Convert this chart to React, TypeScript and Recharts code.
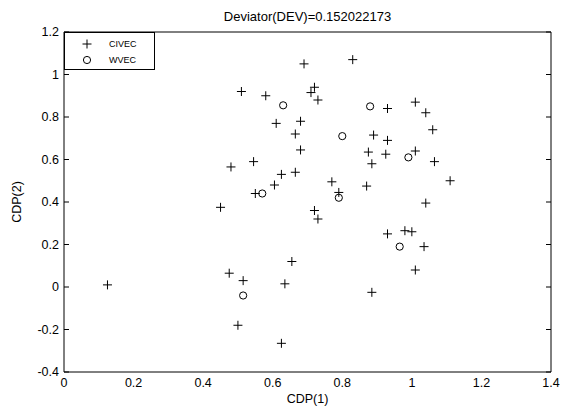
import React from "react"
import { ScatterChart, Scatter, XAxis, YAxis, Legend, Label } from "recharts"

const title = "Deviator(DEV)=0.152022173"
const xTicks = [0, 0.2, 0.4, 0.6, 0.8, 1, 1.2, 1.4]
const yTicks = [-0.4, -0.2, 0, 0.2, 0.4, 0.6, 0.8, 1, 1.2]

const civecX = [0.69, 0.83, 0.51, 0.58, 0.72, 0.71, 0.73, 0.93, 1.01, 1.04, 0.61, 0.68, 0.665, 1.06, 0.89, 0.93, 0.68, 0.875, 0.925, 1.01, 1.065, 0.885, 0.48, 0.545, 0.625, 0.665, 0.605, 0.55, 1.11, 0.77, 0.87, 0.79, 0.45, 0.72, 0.73, 1.04, 0.93, 0.98, 1.0, 1.035, 0.655, 0.125, 0.475, 0.515, 0.635, 1.01, 0.885, 0.5, 0.625]
const civecY = [1.05, 1.07, 0.92, 0.9, 0.94, 0.915, 0.88, 0.84, 0.87, 0.82, 0.77, 0.78, 0.72, 0.74, 0.715, 0.69, 0.645, 0.635, 0.625, 0.64, 0.59, 0.58, 0.565, 0.59, 0.53, 0.54, 0.48, 0.44, 0.5, 0.495, 0.475, 0.445, 0.375, 0.36, 0.32, 0.395, 0.25, 0.265, 0.26, 0.19, 0.12, 0.01, 0.065, 0.03, 0.015, 0.08, -0.025, -0.18, -0.265]

const wvecX = [0.63, 0.88, 0.8, 0.57, 0.79, 0.99, 0.965, 0.515]
const wvecY = [0.855, 0.85, 0.71, 0.44, 0.42, 0.61, 0.19, -0.04]

const civec = civecX.map((x, i) => ({ x, y: civecY[i] }))
const wvec = wvecX.map((x, i) => ({ x, y: wvecY[i] }))

const font = '"Liberation Sans", Arial, sans-serif'
const tickStyle = { fill: "#000", fontSize: 12.5, fontFamily: font }
const noTick = () => <g />

const Plus = (p: any) => (
    <path d={`M${p.cx - 4.5},${p.cy}h9M${p.cx},${p.cy - 4.5}v9`} stroke="#000" strokeWidth={1} fill="none" />
)
const Ring = (p: any) => <circle cx={p.cx} cy={p.cy} r={3.6} stroke="#000" strokeWidth={1} fill="none" />

function LegendBox({ payload }: any) {
    return (
        <div style={{ width: 91, height: 38, boxSizing: "border-box", border: "1px solid #000", background: "#fff", position: "relative", fontFamily: font, fontSize: 9, color: "#000" }}>
            {(payload || []).map((entry: any, i: number) => (
                <div key={entry.value} style={{ position: "absolute", left: 0, top: 3 + i * 16, height: 16, display: "flex", alignItems: "center" }}>
                    <svg width={44} height={16}>
                        {entry.value === "CIVEC" ? <Plus cx={22} cy={8} /> : <Ring cx={22} cy={8} />}
                    </svg>
                    <span>{entry.value}</span>
                </div>
            ))}
        </div>
    )
}

export default function App() {
    return (
        <div style={{ position: "absolute", left: 0, top: 0, width: 561, height: 408, background: "#fff", fontFamily: font }}>
            <div style={{ position: "absolute", left: 64, width: 487, top: 9, lineHeight: "15px", textAlign: "center", fontSize: 13, color: "#000" }}>
                {title}
            </div>
            <ScatterChart width={561} height={408} margin={{ top: 32, right: 10, left: 0, bottom: 0 }}>
                <XAxis type="number" dataKey="x" domain={[0, 1.4]} ticks={xTicks} interval={0} allowDataOverflow
                    height={36} tickLine={false} tickSize={0} tickMargin={6} tick={tickStyle}
                    axisLine={{ stroke: "#000" }}>
                    <Label value="CDP(1)" position="insideBottom" offset={5} style={{ fill: "#000", fontSize: 12.5, fontFamily: font }} />
                </XAxis>
                <XAxis xAxisId="bin" type="number" domain={[0, 1.4]} ticks={xTicks} interval={0} allowDataOverflow
                    orientation="bottom" mirror tickSize={5} tickLine={{ stroke: "#000" }} axisLine={false} tick={noTick} />
                <XAxis xAxisId="top" type="number" domain={[0, 1.4]} ticks={xTicks} interval={0} allowDataOverflow
                    orientation="top" mirror tickSize={5} tickLine={{ stroke: "#000" }} axisLine={{ stroke: "#000" }} tick={noTick} />
                <YAxis type="number" dataKey="y" domain={[-0.4, 1.2]} ticks={yTicks} interval={0} allowDataOverflow
                    width={64} tickLine={false} tickSize={0} tickMargin={5} tick={tickStyle}
                    axisLine={{ stroke: "#000" }}>
                    <Label value="CDP(2)" angle={-90} position="insideLeft" offset={17} style={{ textAnchor: "middle", fill: "#000", fontSize: 12.5, fontFamily: font }} />
                </YAxis>
                <YAxis yAxisId="lin" type="number" domain={[-0.4, 1.2]} ticks={yTicks} interval={0} allowDataOverflow
                    orientation="left" mirror tickSize={5} tickLine={{ stroke: "#000" }} axisLine={false} tick={noTick} />
                <YAxis yAxisId="right" type="number" domain={[-0.4, 1.2]} ticks={yTicks} interval={0} allowDataOverflow
                    orientation="right" mirror tickSize={5} tickLine={{ stroke: "#000" }} axisLine={{ stroke: "#000" }} tick={noTick} />
                <Legend layout="vertical" align="center" verticalAlign="middle" content={<LegendBox />}
                    wrapperStyle={{ left: 64, top: 32, width: 91, height: 38 }} />
                <Scatter name="CIVEC" data={civec} shape={<Plus />} isAnimationActive={false} legendType="plus" />
                <Scatter name="WVEC" data={wvec} shape={<Ring />} isAnimationActive={false} legendType="circle" />
            </ScatterChart>
        </div>
    )
}
